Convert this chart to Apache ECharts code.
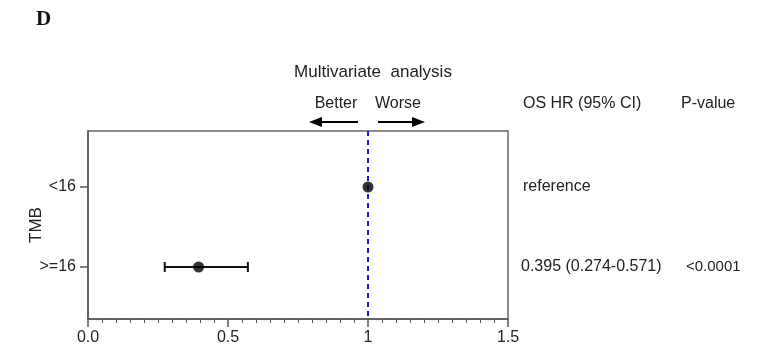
<!DOCTYPE html>
<html>
<head>
<meta charset="utf-8">
<script src="https://cdn.jsdelivr.net/npm/echarts@6/dist/echarts.min.js"></script>
<style>
  html, body { margin: 0; padding: 0; background: #fff; }
  #chart { width: 757px; height: 354px; }
</style>
</head>
<body>
<div id="chart"></div>
<script>
// Forest plot: multivariate Cox model, TMB groups
const groups = ['<16', '>=16'];
const hazardRatio = [1, 0.395];
const ciLower = [null, 0.274];
const ciUpper = [null, 0.571];
const pValues = ['', '<0.0001'];
const hrTexts = ['reference', null];
const xTicks = [0, 0.5, 1, 1.5];
const xTickLabels = ['0.0', '0.5', '1', '1.5'];

const FONT = 'Liberation Sans, Arial, sans-serif';
const TXT = '#222';

const rowPos = groups.map((g, i) => i + 1);

const chart = echarts.init(document.getElementById('chart'));

const pointData = groups.map((g, i) => [hazardRatio[i], rowPos[i]]);
const ciData = groups.map((g, i) => ciLower[i] == null ? null : [ciLower[i], ciUpper[i], rowPos[i]]).filter(d => d);

chart.setOption({
  animation: false,
  grid: { left: 88, right: 249, top: 131, bottom: 35, show: true, borderColor: '#666', borderWidth: 1.5, backgroundColor: 'transparent' },
  xAxis: {
    type: 'value', min: 0, max: 1.5, interval: 0.5,
    axisLine: { show: true, lineStyle: { color: '#555', width: 1.5 } },
    axisTick: { show: true, length: 8, lineStyle: { color: '#555', width: 1.5 } },
    minorTick: { show: true, splitNumber: 10, length: 4, lineStyle: { color: '#555', width: 1 } },
    splitLine: { show: false },
    axisLabel: {
      fontFamily: FONT, fontSize: 16, color: TXT, margin: 11,
      formatter: v => { const k = xTicks.findIndex(t => Math.abs(t - v) < 1e-9); return k >= 0 ? xTickLabels[k] : ''; }
    }
  },
  yAxis: {
    type: 'value', inverse: true, min: 0.3, max: 2.65,
    name: 'TMB', nameLocation: 'middle', nameGap: 43, nameRotate: 90, nameMoveOverlap: false,
    nameTextStyle: { fontFamily: FONT, fontSize: 17, color: TXT },
    axisLine: { show: true, lineStyle: { color: '#555', width: 1.5 } },
    axisTick: { show: true, length: 8, customValues: rowPos, lineStyle: { color: '#555', width: 1.5 } },
    splitLine: { show: false },
    axisLabel: {
      fontFamily: FONT, fontSize: 16, color: TXT, margin: 12,
      customValues: rowPos,
      formatter: v => groups[Math.round(v) - 1] || ''
    }
  },
  series: [
    {
      type: 'custom',
      data: ciData,
      renderItem: function (params, api) {
        const lo = api.coord([api.value(0), api.value(2)]);
        const hi = api.coord([api.value(1), api.value(2)]);
        const h = 5;
        const st = { stroke: '#111', lineWidth: 2 };
        return {
          type: 'group',
          children: [
            { type: 'line', shape: { x1: lo[0], y1: lo[1], x2: hi[0], y2: hi[1] }, style: st },
            { type: 'line', shape: { x1: lo[0], y1: lo[1] - h, x2: lo[0], y2: lo[1] + h }, style: st },
            { type: 'line', shape: { x1: hi[0], y1: hi[1] - h, x2: hi[0], y2: hi[1] + h }, style: st }
          ]
        };
      },
      z: 3
    },
    {
      type: 'scatter',
      data: pointData,
      symbol: 'circle',
      symbolSize: 11,
      itemStyle: { color: '#000' },
      z: 5,
      markLine: {
        silent: true,
        symbol: ['none', 'none'],
        label: { show: false },
        lineStyle: { color: '#1a1ad6', type: [5, 4], width: 2 },
        data: [{ xAxis: 1 }]
      }
    }
  ]
});

// Annotations: headers, direction arrows and per-row estimates
const px = (x, y) => chart.convertToPixel({ gridIndex: 0 }, [x, y]);
const textEl = (x, y, text, opts) => Object.assign({
  type: 'text', x: x, y: y,
  style: Object.assign({ text: text, fontFamily: FONT, fontSize: 16, fill: TXT, textVerticalAlign: 'middle' }, opts && opts.style || {})
}, opts && opts.el || {});

const refX = px(1, 1)[0];
const elements = [];
elements.push({ type: 'text', x: 36, y: 20, style: { text: 'D', fontFamily: 'Liberation Serif, Times New Roman, serif', fontWeight: 'bold', fontSize: 21, fill: '#111', textVerticalAlign: 'middle' } });
elements.push(textEl(refX + 5, 72, 'Multivariate  analysis', { style: { fontSize: 17, textAlign: 'center' } }));
elements.push(textEl(refX - 32, 104, 'Better', { style: { textAlign: 'center' } }));
elements.push(textEl(refX + 30, 104, 'Worse', { style: { textAlign: 'center' } }));

// arrows
const ay = 122;
elements.push({ type: 'line', shape: { x1: refX - 10, y1: ay, x2: refX - 48, y2: ay }, style: { stroke: '#000', lineWidth: 2 } });
elements.push({ type: 'polygon', shape: { points: [[refX - 59, ay], [refX - 46, ay - 5], [refX - 46, ay + 5]] }, style: { fill: '#000' } });
elements.push({ type: 'line', shape: { x1: refX + 10, y1: ay, x2: refX + 46, y2: ay }, style: { stroke: '#000', lineWidth: 2 } });
elements.push({ type: 'polygon', shape: { points: [[refX + 57, ay], [refX + 44, ay - 5], [refX + 44, ay + 5]] }, style: { fill: '#000' } });

elements.push(textEl(523, 104, 'OS HR (95% CI)'));
elements.push(textEl(681, 104, 'P-value'));

groups.forEach((g, i) => {
  const y = px(1, rowPos[i])[1];
  const hrText = hrTexts[i] != null ? hrTexts[i]
    : hazardRatio[i].toFixed(3) + ' (' + ciLower[i].toFixed(3) + '-' + ciUpper[i].toFixed(3) + ')';
  elements.push(textEl(hrTexts[i] != null ? 523 : 521, y, hrText));
  if (pValues[i]) elements.push(textEl(686, y, pValues[i], { style: { fontSize: 15 } }));
});

chart.setOption({ graphic: { elements: elements } });
</script>
</body>
</html>
